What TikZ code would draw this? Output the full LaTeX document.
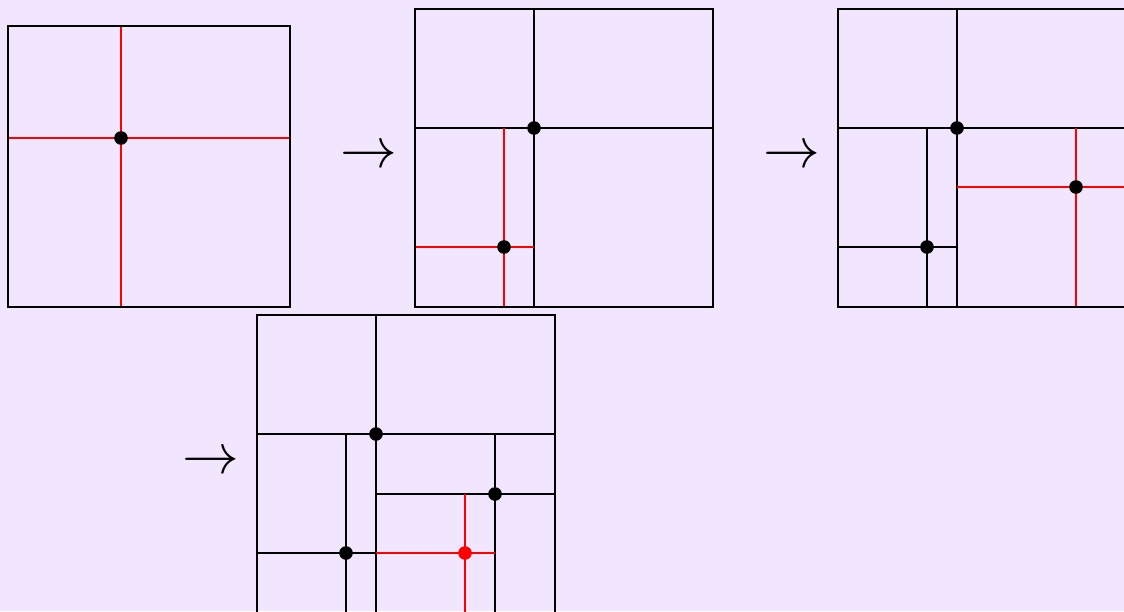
\documentclass[tikz,border=0pt]{standalone}
\definecolor{bgc}{RGB}{241,230,254}
\newcommand{\bigto}{\scalebox{1.14}{\fontsize{24.88}{30}\selectfont$\to$}}
\tikzset{
  frame/.style={draw=black, line width=1.15pt},
  cut/.style={draw=black, line width=1.1pt},
  redcut/.style={draw=red, line width=1.1pt},
  dotb/.style={circle, fill=black, inner sep=0pt, minimum size=6.8pt},
  dotr/.style={circle, fill=red, inner sep=0pt, minimum size=6.8pt},
  arr/.style={inner sep=0pt},
}
\begin{document}
\begin{tikzpicture}[x=0.5pt, y=-0.5pt]
\useasboundingbox (0,0) rectangle (1124,611);
\fill[bgc] (0,0) rectangle (1124,611);
\clip (0,0) rectangle (1124,611);
% box 1
\draw[redcut] (121,26) -- (121,307);
\draw[redcut] (8,138) -- (290,138);
\draw[frame] (8,26) rectangle (290,307);
\node[dotb] (d1) at (121,138) {};
% arrow 1
\node[arr] (a1) at (368.5,157) {\bigto};
% box 2
\draw[cut] (534,9) -- (534,307);
\draw[cut] (415,128) -- (713,128);
\draw[redcut] (504,128) -- (504,307);
\draw[redcut] (415,247) -- (534,247);
\draw[frame] (415,9) rectangle (713,307);
\node[dotb] (d2a) at (534,128) {};
\node[dotb] (d2b) at (504,247) {};
% arrow 2
\node[arr] (a2) at (791.5,157) {\bigto};
% box 3
\draw[cut] (957,9) -- (957,307);
\draw[cut] (838,128) -- (1136,128);
\draw[cut] (927,128) -- (927,307);
\draw[cut] (838,247) -- (957,247);
\draw[redcut] (1076,128) -- (1076,307);
\draw[redcut] (957,187) -- (1136,187);
\draw[frame] (838,9) rectangle (1136,307);
\node[dotb] (d3a) at (957,128) {};
\node[dotb] (d3b) at (927,247) {};
\node[dotb] (d3c) at (1076,187) {};
% arrow 3
\node[arr] (a3) at (210.5,463) {\bigto};
% box 4
\draw[cut] (376,315) -- (376,613);
\draw[cut] (257,434) -- (555,434);
\draw[cut] (346,434) -- (346,613);
\draw[cut] (257,553) -- (376,553);
\draw[cut] (495,434) -- (495,613);
\draw[cut] (376,494) -- (555,494);
\draw[redcut] (465,494) -- (465,613);
\draw[redcut] (376,553) -- (495,553);
\draw[frame] (257,315) rectangle (555,613);
\node[dotb] (d4a) at (376,434) {};
\node[dotb] (d4b) at (346,553) {};
\node[dotb] (d4c) at (495,494) {};
\node[dotr] (d4d) at (465,553) {};
\end{tikzpicture}
\end{document}
